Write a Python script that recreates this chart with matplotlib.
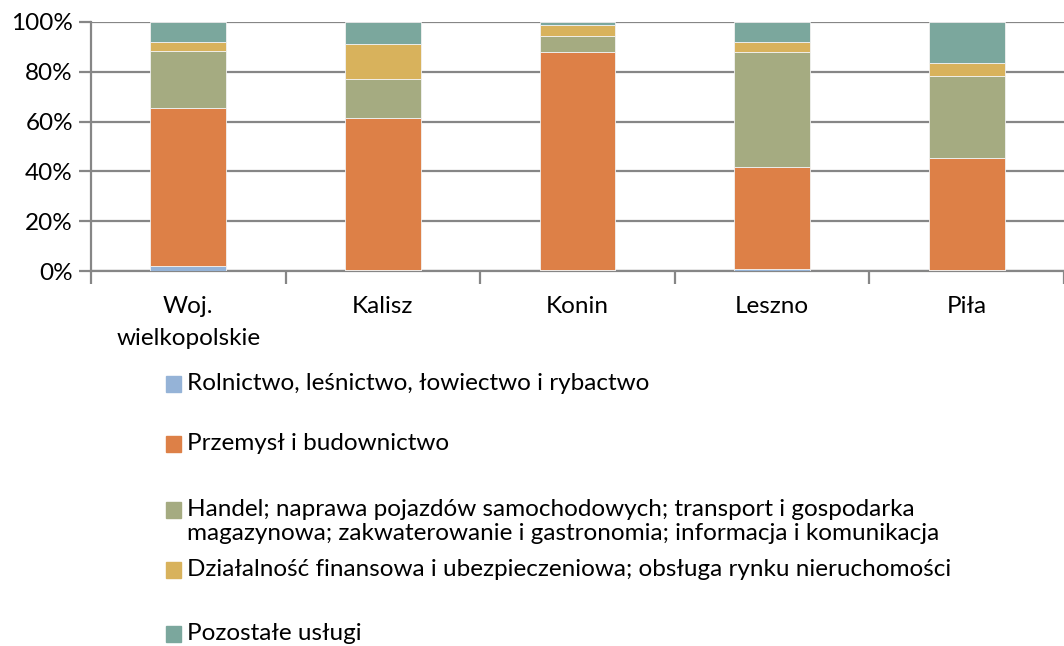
import numpy as np
import matplotlib
matplotlib.use("Agg")
from matplotlib import pyplot as plt
from matplotlib.patches import Rectangle

plt.rcParams['font.family'] = ['Lato', 'DejaVu Sans']

# categories and shares (%)
regions = ["Woj.\nwielkopolskie", "Kalisz", "Konin", "Leszno", "Piła"]
rolnictwo = [2.0, 0.3, 0.3, 0.8, 0.3]
przemysl = [63.4, 61.3, 87.7, 41.0, 45.0]
handel = [22.8, 15.4, 6.4, 46.2, 33.1]
finanse = [3.9, 14.0, 4.3, 3.9, 5.1]
pozostale = [7.9, 9.0, 1.3, 8.1, 16.5]

labels = [
    "Rolnictwo, leśnictwo, łowiectwo i rybactwo",
    "Przemysł i budownictwo",
    "Handel; naprawa pojazdów samochodowych; transport i gospodarka\nmagazynowa; zakwaterowanie i gastronomia; informacja i komunikacja",
    "Działalność finansowa i ubezpieczeniowa; obsługa rynku nieruchomości",
    "Pozostałe usługi",
]
colors = ["#95B3D7", "#DD8047", "#A5AB81", "#D8B25C", "#7BA79D"]
series = [rolnictwo, przemysl, handel, finanse, pozostale]

W, H = 1064, 646
FS = 17.5
fig = plt.figure(figsize=(W / 100, H / 100), dpi=100)
ax = fig.add_axes([91 / W, 1 - 271 / H, (W - 91) / W, (271 - 22) / H])

x = np.arange(len(regions))
bottom = np.zeros(len(regions))
for vals, c in zip(series, colors):
    ax.bar(x, vals, 0.39, bottom=bottom, color=c, edgecolor="#f2f2f2", linewidth=0.6, zorder=3)
    bottom += np.array(vals)

grid_c = "#868686"
ax.set_xlim(-0.5, len(regions) - 0.5)
ax.set_ylim(0, 100)
ax.set_yticks(np.arange(0, 101, 20))
ax.set_yticklabels([f"{v}%" for v in range(0, 101, 20)], fontsize=FS)
ax.yaxis.grid(True, color=grid_c, linewidth=1.6, zorder=0)
ax.tick_params(axis="y", length=9, width=1.6, color=grid_c, pad=4)

ax.set_xticks(x)
ax.set_xticklabels(regions, fontsize=FS, linespacing=1.65)
ax.set_xticks(np.arange(-0.5, len(regions) - 0.4, 1), minor=True)
ax.tick_params(axis="x", which="major", length=0, pad=18)
ax.tick_params(axis="x", which="minor", length=9, width=1.6, color=grid_c)

for s in ["top", "right"]:
    ax.spines[s].set_visible(False)
for s in ["left", "bottom"]:
    ax.spines[s].set_color(grid_c)
    ax.spines[s].set_linewidth(1.6)

# legend drawn below the plot, one text per line
rows = [384, 444, 510, 570, 634]
for lab, c, y in zip(labels, colors, rows):
    fig.patches.append(Rectangle((166 / W, 1 - (y + 8) / H), 15 / W, 16 / H,
                                 transform=fig.transFigure, color=c))
    for i, line in enumerate(lab.split("\n")):
        fig.text(187 / W, 1 - (y + 24 * i) / H, line, fontsize=FS, va="center", ha="left")

fig.savefig("out.png", dpi=100)
